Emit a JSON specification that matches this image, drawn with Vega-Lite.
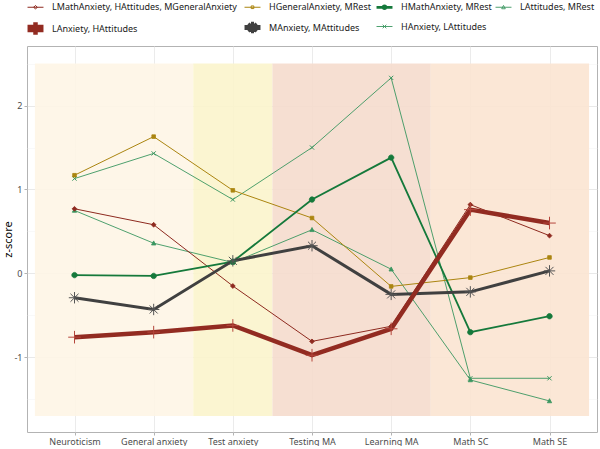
{
  "$schema": "https://vega.github.io/schema/vega-lite/v6.json",
  "width": 570,
  "height": 386,
  "padding": {"left": 2, "top": 0, "right": 4, "bottom": 0},
  "background": "white",
  "config": {
    "font": "Noto Sans",
    "view": {"stroke": "#b3b3b3", "strokeWidth": 1}
  },
  "datasets": {
    "zones": [
      {"zone": "Anxiety", "start": 0.5, "end": 2.5, "ymin": -1.7, "ymax": 2.5},
      {"zone": "Test", "start": 2.5, "end": 3.5, "ymin": -1.7, "ymax": 2.5},
      {"zone": "MA", "start": 3.5, "end": 5.5, "ymin": -1.7, "ymax": 2.5},
      {"zone": "Math", "start": 5.5, "end": 7.5, "ymin": -1.7, "ymax": 2.5}
    ],
    "series": [
      {"group": "LAttitudes, MRest", "pos": 1, "z": 0.75},
      {"group": "LAttitudes, MRest", "pos": 2, "z": 0.36},
      {"group": "LAttitudes, MRest", "pos": 3, "z": 0.13},
      {"group": "LAttitudes, MRest", "pos": 4, "z": 0.52},
      {"group": "LAttitudes, MRest", "pos": 5, "z": 0.05},
      {"group": "LAttitudes, MRest", "pos": 6, "z": -1.27},
      {"group": "LAttitudes, MRest", "pos": 7, "z": -1.52},
      {"group": "HAnxiety, LAttitudes", "pos": 1, "z": 1.13},
      {"group": "HAnxiety, LAttitudes", "pos": 2, "z": 1.43},
      {"group": "HAnxiety, LAttitudes", "pos": 3, "z": 0.88},
      {"group": "HAnxiety, LAttitudes", "pos": 4, "z": 1.5},
      {"group": "HAnxiety, LAttitudes", "pos": 5, "z": 2.33},
      {"group": "HAnxiety, LAttitudes", "pos": 6, "z": -1.25},
      {"group": "HAnxiety, LAttitudes", "pos": 7, "z": -1.25},
      {"group": "HGeneralAnxiety, MRest", "pos": 1, "z": 1.17},
      {"group": "HGeneralAnxiety, MRest", "pos": 2, "z": 1.63},
      {"group": "HGeneralAnxiety, MRest", "pos": 3, "z": 0.99},
      {"group": "HGeneralAnxiety, MRest", "pos": 4, "z": 0.66},
      {"group": "HGeneralAnxiety, MRest", "pos": 5, "z": -0.155},
      {"group": "HGeneralAnxiety, MRest", "pos": 6, "z": -0.05},
      {"group": "HGeneralAnxiety, MRest", "pos": 7, "z": 0.19},
      {"group": "LMathAnxiety, HAttitudes, MGeneralAnxiety", "pos": 1, "z": 0.77},
      {"group": "LMathAnxiety, HAttitudes, MGeneralAnxiety", "pos": 2, "z": 0.58},
      {"group": "LMathAnxiety, HAttitudes, MGeneralAnxiety", "pos": 3, "z": -0.15},
      {"group": "LMathAnxiety, HAttitudes, MGeneralAnxiety", "pos": 4, "z": -0.81},
      {"group": "LMathAnxiety, HAttitudes, MGeneralAnxiety", "pos": 5, "z": -0.63},
      {"group": "LMathAnxiety, HAttitudes, MGeneralAnxiety", "pos": 6, "z": 0.82},
      {"group": "LMathAnxiety, HAttitudes, MGeneralAnxiety", "pos": 7, "z": 0.45},
      {"group": "HMathAnxiety, MRest", "pos": 1, "z": -0.02},
      {"group": "HMathAnxiety, MRest", "pos": 2, "z": -0.03},
      {"group": "HMathAnxiety, MRest", "pos": 3, "z": 0.14},
      {"group": "HMathAnxiety, MRest", "pos": 4, "z": 0.88},
      {"group": "HMathAnxiety, MRest", "pos": 5, "z": 1.38},
      {"group": "HMathAnxiety, MRest", "pos": 6, "z": -0.7},
      {"group": "HMathAnxiety, MRest", "pos": 7, "z": -0.51},
      {"group": "MAnxiety, MAttitudes", "pos": 1, "z": -0.29},
      {"group": "MAnxiety, MAttitudes", "pos": 2, "z": -0.43},
      {"group": "MAnxiety, MAttitudes", "pos": 3, "z": 0.15},
      {"group": "MAnxiety, MAttitudes", "pos": 4, "z": 0.33},
      {"group": "MAnxiety, MAttitudes", "pos": 5, "z": -0.25},
      {"group": "MAnxiety, MAttitudes", "pos": 6, "z": -0.22},
      {"group": "MAnxiety, MAttitudes", "pos": 7, "z": 0.03},
      {"group": "LAnxiety, HAttitudes", "pos": 1, "z": -0.76},
      {"group": "LAnxiety, HAttitudes", "pos": 2, "z": -0.7},
      {"group": "LAnxiety, HAttitudes", "pos": 3, "z": -0.62},
      {"group": "LAnxiety, HAttitudes", "pos": 4, "z": -0.975},
      {"group": "LAnxiety, HAttitudes", "pos": 5, "z": -0.66},
      {"group": "LAnxiety, HAttitudes", "pos": 6, "z": 0.76},
      {"group": "LAnxiety, HAttitudes", "pos": 7, "z": 0.6}
    ]
  },
  "layer": [
    {
      "data": {"name": "zones"},
      "mark": {"type": "rect", "opacity": 0.9},
      "encoding": {
        "x": {"field": "start", "type": "quantitative", "scale": {"domain": [0.4, 7.6], "nice": false, "zero": false},
          "axis": {
            "values": [1, 2, 3, 4, 5, 6, 7],
            "labelExpr": "['Neuroticism','General anxiety','Test anxiety','Testing MA','Learning MA','Math SC','Math SE'][datum.value - 1]",
            "title": null,
            "domain": false,
            "tickSize": 3,
            "tickColor": "#b3b3b3",
            "labelFontSize": 9,
            "labelColor": "#4d4d4d",
            "labelPadding": 2,
            "gridColor": "#e6e6e6",
            "gridWidth": 0.8
          }},
        "x2": {"field": "end"},
        "y": {"field": "ymin", "type": "quantitative", "scale": {"domain": [-1.89, 2.71], "nice": false, "zero": false},
          "axis": {
            "values": [-1.5, -1, -0.5, 0, 0.5, 1, 1.5, 2, 2.5],
            "labelExpr": "datum.value % 1 === 0 ? '' + datum.value : ''",
            "title": "z-score",
            "titleFontSize": 11,
            "titleFontWeight": "normal",
            "titleColor": "#000000",
            "titlePadding": 0,
            "domain": false,
            "tickSize": 3,
            "tickColor": {"condition": {"test": "datum.value % 1 !== 0", "value": "transparent"}, "value": "#b3b3b3"},
            "labelFontSize": 9,
            "labelColor": "#4d4d4d",
            "labelPadding": 2,
            "gridColor": {"condition": {"test": "datum.value % 1 !== 0", "value": "#f2f2f2"}, "value": "#e3e3e3"},
            "gridWidth": {"condition": {"test": "datum.value % 1 !== 0", "value": 0.5}, "value": 0.8}
          }},
        "y2": {"field": "ymax"},
        "fill": {"field": "zone", "type": "nominal", "legend": null,
          "scale": {"domain": ["Anxiety", "Test", "MA", "Math"], "range": ["#fef5e6", "#fbf4cc", "#f5dbcd", "#fbe4d1"]}}
      }
    },
    {
      "data": {"name": "series"},
      "mark": {"type": "line"},
      "encoding": {
        "x": {"field": "pos", "type": "quantitative"},
        "y": {"field": "z", "type": "quantitative"},
        "stroke": {"field": "group", "type": "nominal",
          "scale": {
            "domain": ["LMathAnxiety, HAttitudes, MGeneralAnxiety", "HGeneralAnxiety, MRest", "HMathAnxiety, MRest", "LAttitudes, MRest", "LAnxiety, HAttitudes", "MAnxiety, MAttitudes", "HAnxiety, LAttitudes"],
            "range": ["#8e2a1f", "#ab8510", "#15793b", "#3a9660", "#922b21", "#404040", "#3a9660"]
          }},
        "strokeWidth": {"field": "group", "type": "nominal", "legend": null,
          "scale": {
            "type": "ordinal",
            "domain": ["LMathAnxiety, HAttitudes, MGeneralAnxiety", "HGeneralAnxiety, MRest", "HMathAnxiety, MRest", "LAttitudes, MRest", "LAnxiety, HAttitudes", "MAnxiety, MAttitudes", "HAnxiety, LAttitudes"],
            "range": [1, 1, 1.8, 0.9, 4.5, 3, 0.9]
          }},
        "order": {"field": "pos", "type": "quantitative"}
      }
    },
    {
      "data": {"name": "series"},
      "transform": [{"filter": "false"}],
      "mark": {"type": "point", "filled": false, "opacity": 1, "strokeWidth": 1},
      "encoding": {
        "x": {"field": "pos", "type": "quantitative"},
        "y": {"field": "z", "type": "quantitative"},
        "stroke": {"field": "group", "type": "nominal",
          "legend": {
            "title": null,
            "orient": "top",
            "direction": "horizontal",
            "columns": 4,
            "offset": 2,
            "symbolSize": 144,
            "symbolStrokeWidth": 1,
            "labelOffset": 8,
            "labelFontSize": 9,
            "labelColor": "#1a1a1a",
            "labelLimit": 400,
            "columnPadding": 1,
            "rowPadding": 0,
            "padding": 0,
            "symbolOpacity": 1
          }},
        "shape": {"field": "group", "type": "nominal",
          "scale": {
            "domain": ["LMathAnxiety, HAttitudes, MGeneralAnxiety", "HGeneralAnxiety, MRest", "HMathAnxiety, MRest", "LAttitudes, MRest", "LAnxiety, HAttitudes", "MAnxiety, MAttitudes", "HAnxiety, LAttitudes"],
            "range": [
              "M-1.33,0H1.33M0,-0.3L0.3,0L0,0.3L-0.3,0Z",
              "M-1.33,0H1.33M-0.22,-0.22H0.22V0.22H-0.22Z",
              "M-1.33,-0.08H1.33M-1.33,0.08H1.33M-0.3,0A0.3,0.3,0,1,0,0.3,0A0.3,0.3,0,1,0,-0.3,0Z",
              "M-1.33,0H1.33M0,-0.3L0.3,0.25L-0.3,0.25Z",
              "M-1.33,-0.25H1.33M-1.33,-0.12H1.33M-1.33,0H1.33M-1.33,0.12H1.33M-1.33,0.25H1.33M0,-1.05V1.05",
              "M-1.33,-0.15H1.33M-1.33,-0.05H1.33M-1.33,0.05H1.33M-1.33,0.15H1.33M0,-0.95V0.95M-0.67,-0.67L0.67,0.67M-0.67,0.67L0.67,-0.67",
              "M-1.33,0H1.33M-0.3,-0.3L0.3,0.3M-0.3,0.3L0.3,-0.3"
            ]
          }}
      }
    },
    {
      "data": {"name": "series"},
      "transform": [{"filter": "datum.group === 'LAttitudes, MRest'"}],
      "mark": {"type": "point", "shape": "M0,-0.38L0.36,0.3L-0.36,0.3Z", "size": 144, "fill": "#3a9660", "stroke": "#3a9660", "strokeWidth": 0.8, "opacity": 1},
      "encoding": {"x": {"field": "pos", "type": "quantitative"}, "y": {"field": "z", "type": "quantitative"}}
    },
    {
      "data": {"name": "series"},
      "transform": [{"filter": "datum.group === 'HAnxiety, LAttitudes'"}],
      "mark": {"type": "point", "shape": "M-0.35,-0.35L0.35,0.35M-0.35,0.35L0.35,-0.35", "size": 144, "fill": "#3a9660", "stroke": "#3a9660", "strokeWidth": 1, "opacity": 1},
      "encoding": {"x": {"field": "pos", "type": "quantitative"}, "y": {"field": "z", "type": "quantitative"}}
    },
    {
      "data": {"name": "series"},
      "transform": [{"filter": "datum.group === 'HGeneralAnxiety, MRest'"}],
      "mark": {"type": "point", "shape": "M-0.3,-0.3H0.3V0.3H-0.3Z", "size": 144, "fill": "#ab8510", "stroke": "#ab8510", "strokeWidth": 0.8, "opacity": 1},
      "encoding": {"x": {"field": "pos", "type": "quantitative"}, "y": {"field": "z", "type": "quantitative"}}
    },
    {
      "data": {"name": "series"},
      "transform": [{"filter": "datum.group === 'LMathAnxiety, HAttitudes, MGeneralAnxiety'"}],
      "mark": {"type": "point", "shape": "M0,-0.4L0.4,0L0,0.4L-0.4,0Z", "size": 144, "fill": "#8e2a1f", "stroke": "#8e2a1f", "strokeWidth": 0.8, "opacity": 1},
      "encoding": {"x": {"field": "pos", "type": "quantitative"}, "y": {"field": "z", "type": "quantitative"}}
    },
    {
      "data": {"name": "series"},
      "transform": [{"filter": "datum.group === 'HMathAnxiety, MRest'"}],
      "mark": {"type": "point", "shape": "M-0.45,0A0.45,0.45,0,1,0,0.45,0A0.45,0.45,0,1,0,-0.45,0Z", "size": 144, "fill": "#15793b", "stroke": "#15793b", "strokeWidth": 0.8, "opacity": 1},
      "encoding": {"x": {"field": "pos", "type": "quantitative"}, "y": {"field": "z", "type": "quantitative"}}
    },
    {
      "data": {"name": "series"},
      "transform": [{"filter": "datum.group === 'MAnxiety, MAttitudes'"}],
      "mark": {"type": "point", "shape": "M-0.95,0H0.95M0,-0.95V0.95M-0.67,-0.67L0.67,0.67M-0.67,0.67L0.67,-0.67", "size": 144, "fill": "#555555", "stroke": "#555555", "strokeWidth": 1, "opacity": 1},
      "encoding": {"x": {"field": "pos", "type": "quantitative"}, "y": {"field": "z", "type": "quantitative"}}
    },
    {
      "data": {"name": "series"},
      "transform": [{"filter": "datum.group === 'LAnxiety, HAttitudes'"}],
      "mark": {"type": "point", "shape": "M-1.05,0H1.05M0,-1.05V1.05", "size": 144, "fill": "#b5463c", "stroke": "#b5463c", "strokeWidth": 1, "opacity": 1},
      "encoding": {"x": {"field": "pos", "type": "quantitative"}, "y": {"field": "z", "type": "quantitative"}}
    }
  ]
}
